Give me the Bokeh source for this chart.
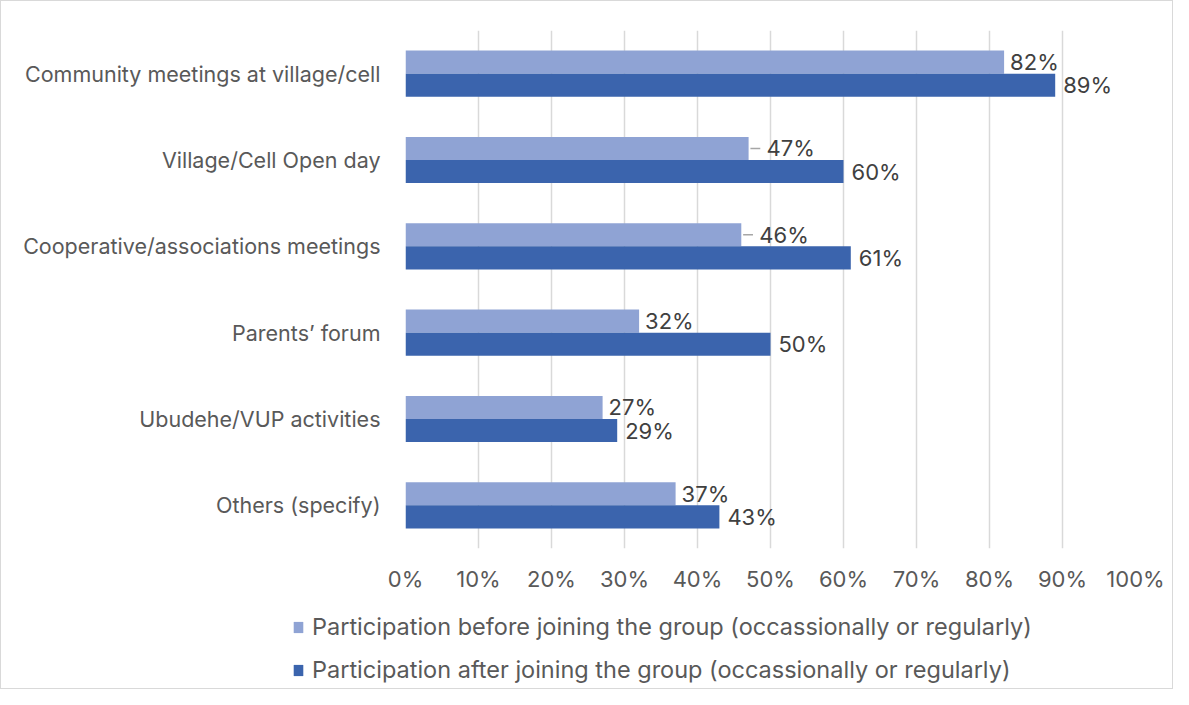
from bokeh.plotting import figure
from bokeh.layouts import column
from bokeh.models import (ColumnDataSource, FactorRange, Range1d, FixedTicker, PrintfTickFormatter,
                          Legend, LegendItem)
from bokeh.transform import dodge
from bokeh.core.properties import value
from bokeh.embed import file_html
from bokeh.resources import INLINE

categories = [
    "Community meetings at village/cell",
    "Village/Cell Open day",
    "Cooperative/associations meetings",
    "Parents\u2019 forum",
    "Ubudehe/VUP activities",
    "Others (specify)",
]
before_values = [82, 47, 46, 32, 27, 37]
after_values = [89, 60, 61, 50, 29, 43]
x_ticks = [0, 10, 20, 30, 40, 50, 60, 70, 80, 90, 100]
series_names = [
    "Participation before joining the group (occassionally or regularly)",
    "Participation after joining the group (occassionally or regularly)",
]
# labels that Excel drew with a leader line (style only)
before_leader = [False, True, True, False, False, False]

FONT = "Inter"
LIGHT = "#8FA3D4"
DARK = "#3B64AD"

src = ColumnDataSource(dict(
    cat=categories,
    before=before_values,
    after=after_values,
    before_lbl=[f"{v}%" for v in before_values],
    after_lbl=[f"{v}%" for v in after_values],
    before_off=[18 if f else 6 for f in before_leader],
))

W = 1171
H_MAIN = 600
H_LEG = 87

p = figure(
    width=W, height=H_MAIN,
    y_range=FactorRange(factors=list(reversed(categories)), range_padding=0),
    x_range=Range1d(0, 100),
    output_backend="svg", toolbar_location=None,
    min_border_left=404, min_border_right=37, min_border_top=29, min_border_bottom=H_MAIN - 547,
)
p.frame_align = False
p.outline_line_color = None
p.background_fill_color = "white"
p.border_fill_color = "white"

bh = 0.267
r1 = p.hbar(y=dodge("cat", bh / 2, range=p.y_range), right="before", left=0, height=bh,
            source=src, fill_color=LIGHT, line_color=None)
r2 = p.hbar(y=dodge("cat", -bh / 2, range=p.y_range), right="after", left=0, height=bh,
            source=src, fill_color=DARK, line_color=None)

# leader lines
lead_src = ColumnDataSource(dict(
    cat=[c for c, f in zip(categories, before_leader) if f],
    x0=[v + 0.25 for v, f in zip(before_values, before_leader) if f],
    x1=[v + 1.6 for v, f in zip(before_values, before_leader) if f],
))
p.segment(x0="x0", x1="x1", y0=dodge("cat", bh / 2, range=p.y_range), y1=dodge("cat", bh / 2, range=p.y_range),
          source=lead_src, line_color="#A6A6A6", line_width=1.5)

p.text(x="before", y=dodge("cat", bh / 2, range=p.y_range), text="before_lbl", source=src,
       x_offset="before_off", text_align="left", text_baseline="middle",
       text_font=value(FONT), text_font_size="22px", text_color="#404040")
p.text(x="after", y=dodge("cat", -bh / 2, range=p.y_range), text="after_lbl", source=src,
       x_offset=8, text_align="left", text_baseline="middle",
       text_font=value(FONT), text_font_size="22px", text_color="#404040")

p.xaxis.ticker = FixedTicker(ticks=x_ticks)
p.xaxis.formatter = PrintfTickFormatter(format="%d%%")
p.xaxis.axis_line_color = None
p.xaxis.major_tick_line_color = None
p.xaxis.minor_tick_line_color = None
p.xaxis.major_label_standoff = 11
p.xaxis.major_label_text_font = FONT
p.xaxis.major_label_text_font_size = "22px"
p.xaxis.major_label_text_color = "#595959"

p.yaxis.axis_line_color = None
p.yaxis.major_tick_line_color = None
p.yaxis.minor_tick_line_color = None
p.yaxis.major_label_standoff = 19
p.yaxis.major_label_text_font = FONT
p.yaxis.major_label_text_font_size = "21.5px"
p.yaxis.major_label_text_color = "#595959"

p.ygrid.grid_line_color = None
p.xgrid.grid_line_color = "#D9D9D9"
p.xgrid.grid_line_width = 1.5

# legend panel below the chart (its own small figure, frame spanning the full width)
lf = figure(width=W, height=H_LEG, x_range=Range1d(0, 1), y_range=Range1d(0, 1),
            x_axis_type=None, y_axis_type=None, output_backend="svg", toolbar_location=None,
            min_border=0)
lf.frame_align = False
lf.outline_line_color = None
lf.grid.grid_line_color = None
lf.border_fill_color = "white"
lr1 = lf.hbar(y=[0], left=[0], right=[0], height=0, fill_color=LIGHT, line_color=None)
lr2 = lf.hbar(y=[0], left=[0], right=[0], height=0, fill_color=DARK, line_color=None)

legend = Legend(
    items=[LegendItem(label=series_names[0], renderers=[lr1]),
           LegendItem(label=series_names[1], renderers=[lr2])],
    location=(291, 4), orientation="vertical",
    padding=0, margin=0, spacing=14,
    glyph_width=12, glyph_height=14, label_height=28, label_standoff=8,
    label_text_font=FONT, label_text_font_size="23.5px", label_text_color="#595959",
    border_line_color=None, background_fill_alpha=0,
)
lf.add_layout(legend, "center")

layout = column(p, lf, spacing=0)
layout.styles = {"border": "1px solid #D9D9D9"}

open("out.html", "w").write(file_html(layout, INLINE))
